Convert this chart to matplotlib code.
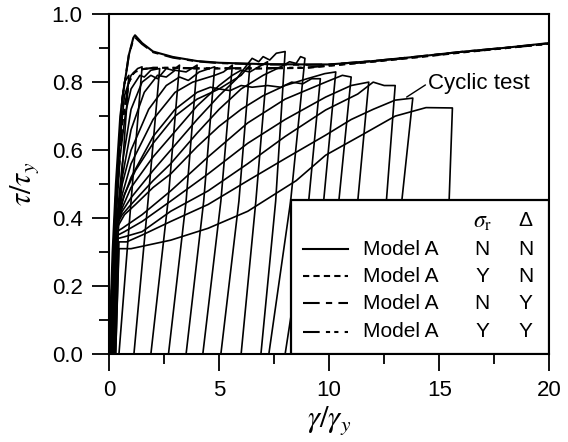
import numpy as np
import matplotlib.pyplot as plt
from matplotlib.patches import Rectangle
from matplotlib.ticker import MultipleLocator

plt.rcParams['font.family'] = ['Liberation Sans', 'DejaVu Sans']
plt.rcParams['mathtext.fontset'] = 'stix'

# cyclic test: reloading branches, (gamma/gamma_y, tau/tau_y), last point = peak
cyc00 = [(0.0, 0.0), (0.15, 0.3), (0.3, 0.5), (0.5, 0.7), (0.7, 0.8), (0.9, 0.82)]
cyc01 = [(0.05, 0.0), (0.2, 0.3), (0.45, 0.6), (0.7, 0.76), (1.0, 0.82), (1.3, 0.84), (1.5, 0.845)]
cyc02 = [(0.1, 0.0), (0.25, 0.33), (0.5, 0.58), (0.75, 0.71), (1.0, 0.78), (1.4, 0.82), (1.6, 0.815),
         (1.9, 0.835), (2.3, 0.84)]
cyc03 = [(0.1, 0.0), (0.3, 0.36), (0.6, 0.56), (1.0, 0.72), (1.5, 0.8), (1.9, 0.82), (2.2, 0.81),
         (2.6, 0.84), (2.9, 0.835), (3.2, 0.85)]
cyc04 = [(0.1, 0.0), (0.3, 0.36), (0.6, 0.52), (1.0, 0.66), (1.6, 0.77), (2.2, 0.82), (2.6, 0.815),
         (3.0, 0.835), (3.5, 0.83), (4.0, 0.85)]
cyc05 = [(0.15, 0.0), (0.3, 0.36), (0.6, 0.5), (1.0, 0.6), (1.8, 0.72), (2.6, 0.79), (3.2, 0.815),
         (3.6, 0.805), (4.1, 0.83), (4.8, 0.845)]
cyc06 = [(0.15, 0.0), (0.3, 0.36), (0.6, 0.47), (1.0, 0.56), (2.0, 0.69), (3.0, 0.77), (3.8, 0.8),
         (4.3, 0.81), (4.8, 0.82), (5.2, 0.83), (5.6, 0.85)]
cyc07 = [(0.15, 0.0), (0.3, 0.37), (0.6, 0.45), (1.0, 0.52), (2.0, 0.64), (3.0, 0.72), (4.0, 0.77),
         (4.6, 0.785), (5.0, 0.78), (5.5, 0.8), (6.0, 0.82), (6.4, 0.85)]
cyc08 = [(0.15, 0.0), (0.3, 0.37), (0.6, 0.43), (1.0, 0.49), (2.0, 0.58), (2.8, 0.64), (4.0, 0.73),
         (5.0, 0.79), (5.6, 0.82), (6.0, 0.835), (6.4, 0.83), (6.8, 0.845), (7.2, 0.86)]
cyc09 = [(0.2, 0.0), (0.35, 0.38), (0.6, 0.42), (1.0, 0.46), (2.0, 0.54), (2.8, 0.6), (4.0, 0.69),
         (5.0, 0.76), (5.8, 0.81), (6.2, 0.845), (6.5, 0.87), (6.8, 0.86), (7.0, 0.875), (7.3, 0.865),
         (7.6, 0.885), (8.0, 0.89)]
cyc10 = [(0.2, 0.0), (0.35, 0.38), (0.6, 0.41), (1.0, 0.44), (2.0, 0.51), (2.8, 0.56), (4.0, 0.65),
         (5.0, 0.72), (6.0, 0.78), (7.0, 0.82), (7.8, 0.845), (8.2, 0.86), (8.5, 0.855), (8.7, 0.875),
         (8.9, 0.87)]
cyc11 = [(0.2, 0.0), (0.35, 0.38), (0.7, 0.47), (1.2, 0.54), (2.0, 0.62), (3.0, 0.7), (4.0, 0.75),
         (4.5, 0.765), (5.0, 0.78), (5.5, 0.775), (6.0, 0.79), (6.5, 0.785), (7.2, 0.79), (7.8, 0.785),
         (8.3, 0.8), (8.8, 0.795), (9.2, 0.81), (9.6, 0.81)]
cyc12 = [(0.2, 0.0), (0.35, 0.37), (0.7, 0.41), (1.2, 0.44), (2.0, 0.49), (2.8, 0.53), (4.0, 0.61),
         (5.0, 0.67), (6.0, 0.72), (7.0, 0.76), (8.0, 0.79), (9.0, 0.81), (9.8, 0.825), (10.3, 0.83)]
cyc13 = [(0.2, 0.0), (0.35, 0.36), (0.6, 0.37), (1.5, 0.41), (2.8, 0.48), (4.5, 0.58), (6.3, 0.68),
         (8.0, 0.75), (9.84, 0.8), (10.6, 0.82), (11.0, 0.815)]
cyc14 = [(0.25, 0.0), (0.4, 0.35), (0.7, 0.36), (1.5, 0.39), (2.8, 0.45), (4.5, 0.53), (6.3, 0.62),
         (8.0, 0.69), (9.84, 0.756), (11.0, 0.79), (11.8, 0.8)]
cyc15 = [(0.25, 0.0), (0.4, 0.34), (0.7, 0.345), (1.5, 0.36), (2.8, 0.42), (4.5, 0.48), (6.3, 0.56),
         (8.0, 0.64), (9.84, 0.718), (11.3, 0.765), (12.0, 0.8), (12.5, 0.79), (13.0, 0.79)]
cyc16 = [(0.3, 0.0), (0.45, 0.33), (0.8, 0.33), (1.5, 0.35), (2.8, 0.39), (4.5, 0.44), (6.3, 0.51),
         (8.0, 0.575), (9.84, 0.644), (11.0, 0.69), (12.0, 0.72), (13.0, 0.747), (13.8, 0.753)]
cyc17 = [(0.3, 0.0), (0.45, 0.31), (1.0, 0.31), (2.8, 0.335), (4.5, 0.37), (6.3, 0.42), (8.5, 0.51),
         (9.84, 0.585), (11.5, 0.645), (13.0, 0.7), (14.4, 0.725), (15.6, 0.724)]
cycles = [cyc00, cyc01, cyc02, cyc03, cyc04, cyc05, cyc06, cyc07, cyc08, cyc09,
          cyc10, cyc11, cyc12, cyc13, cyc14, cyc15, cyc16, cyc17]

# unloading branches: gamma at tau = 0.45 and at tau = 0
unload_mid = [0.5, 1.0, 1.77, 2.68, 3.5, 4.3, 5.08, 5.9, 6.67, 7.57, 8.25, 9.07, 9.75,
              10.44, 11.3, 12.6, 13.3, 15.45]
unload_zero = [0.1, 0.45, 1.13, 1.9, 2.7, 3.5, 4.26, 5.08, 6.0, 6.9, 7.26, 8.0, 8.9,
               9.6, 10.45, 11.75, 12.45, 14.6]

# model curves
model_g = [0.0, 0.3, 0.6, 0.9, 1.1, 1.18, 1.5, 2.0, 2.9, 4.0, 5.0, 7.0, 9.0, 10.0, 12.0, 14.0, 16.0, 18.0, 20.0]
model_nn = [0.0, 0.45, 0.75, 0.88, 0.93, 0.938, 0.915, 0.89, 0.874, 0.862, 0.857, 0.853, 0.852, 0.852,
            0.862, 0.875, 0.889, 0.901, 0.915]
model_ny = [0.0, 0.45, 0.75, 0.88, 0.925, 0.932, 0.912, 0.888, 0.872, 0.861, 0.856, 0.852, 0.851, 0.852,
            0.862, 0.875, 0.889, 0.901, 0.914]
model_yn = [0.0, 0.42, 0.68, 0.8, 0.825, 0.83, 0.838, 0.842, 0.842, 0.84, 0.84, 0.84, 0.842, 0.848,
            0.86, 0.873, 0.887, 0.9, 0.913]
model_yy = [0.0, 0.42, 0.68, 0.8, 0.825, 0.83, 0.838, 0.842, 0.842, 0.841, 0.841, 0.841, 0.843, 0.849,
            0.861, 0.874, 0.888, 0.9, 0.913]

legend_style = ['-', (0, (3, 2)), (0, (8, 3, 3, 3)), (0, (8, 3, 2, 2, 2, 3))]
legend_sig = ['N', 'Y', 'N', 'Y']
legend_del = ['N', 'N', 'Y', 'Y']

fig = plt.figure(figsize=(5.68, 4.42), dpi=100)
ax = fig.add_axes([0.192, 0.199, 0.775, 0.769])

lw = 1.2
for cyc, gm, gz in zip(cycles, unload_mid, unload_zero):
    g = [p[0] for p in cyc]
    t = [p[1] for p in cyc]
    g = g + [gm, gz]
    t = t + [0.45, 0.0]
    ax.plot(g, t, color='black', lw=lw, solid_joinstyle='round')

ax.plot(model_g, model_nn, color='black', lw=1.5, ls=legend_style[0])
ax.plot(model_g, model_yn, color='black', lw=1.5, ls=legend_style[1])
ax.plot(model_g, model_ny, color='black', lw=1.5, ls=legend_style[2])
ax.plot(model_g, model_yy, color='black', lw=1.5, ls=legend_style[3])

ax.annotate('Cyclic test', xy=(13.52, 0.756), xytext=(14.5, 0.797), fontsize=16,
            va='center', ha='left',
            arrowprops=dict(arrowstyle='-', color='black', lw=1.0, shrinkA=0, shrinkB=0,
                            relpos=(0, 0.5)))

# legend table
ax.add_patch(Rectangle((0.413, 0.0), 0.587, 0.453, transform=ax.transAxes, facecolor='white',
                       edgecolor='black', lw=1.6, zorder=5))
ax.text(0.848, 0.388, r'$\sigma_\mathrm{r}$', transform=ax.transAxes, fontsize=17,
        ha='center', va='center', zorder=6)
ax.text(0.946, 0.392, 'Δ', transform=ax.transAxes, fontsize=15, ha='center', va='center', zorder=6)
rows_y = [0.309, 0.229, 0.150, 0.065]
for ry, st, s, d in zip(rows_y, legend_style, legend_sig, legend_del):
    ax.plot([0.44, 0.542], [ry, ry], transform=ax.transAxes, color='black', lw=1.5, ls=st,
            zorder=6, clip_on=False)
    ax.text(0.576, ry, 'Model A', transform=ax.transAxes, fontsize=15, ha='left', va='center',
            zorder=6)
    ax.text(0.848, ry, s, transform=ax.transAxes, fontsize=15, ha='center', va='center', zorder=6)
    ax.text(0.946, ry, d, transform=ax.transAxes, fontsize=15, ha='center', va='center', zorder=6)

ax.set_xlim(0, 20)
ax.set_ylim(0, 1.0)
ax.xaxis.set_major_locator(MultipleLocator(5))
ax.xaxis.set_minor_locator(MultipleLocator(2.5))
ax.yaxis.set_major_locator(MultipleLocator(0.2))
ax.yaxis.set_minor_locator(MultipleLocator(0.1))
ax.yaxis.set_major_formatter(plt.FormatStrFormatter('%.1f'))
ax.tick_params(which='major', direction='out', length=12, width=1.3, labelsize=16, pad=7)
ax.tick_params(which='minor', direction='out', length=7, width=1.3)
for sp in ax.spines.values():
    sp.set_linewidth(1.5)

ax.set_xlabel(r'$\gamma/\gamma_y$', fontsize=22, labelpad=2)
ax.set_ylabel(r'$\tau/\tau_y$', fontsize=22, labelpad=8)

fig.savefig('out.png', dpi=100)
